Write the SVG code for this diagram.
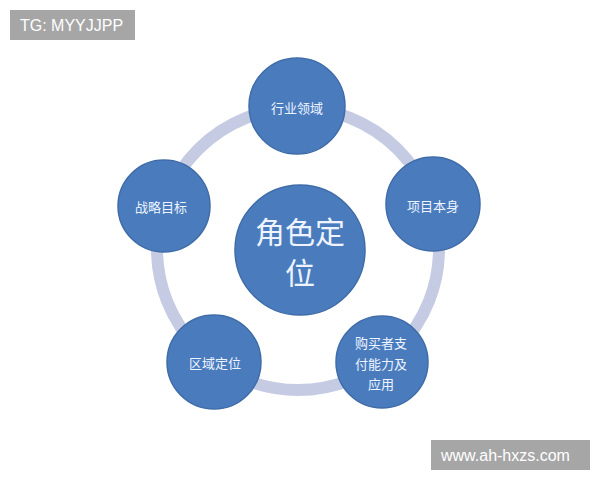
<svg xmlns="http://www.w3.org/2000/svg" width="600" height="480" viewBox="0 0 600 480">
<style>
.node{fill:#4a7cbd;stroke:#3f6ca8;stroke-width:1.5}
.t{fill:#eef4ff;font-family:"Noto Sans CJK SC","Noto Sans",sans-serif;font-size:13px;text-anchor:middle;dominant-baseline:central}
.big{font-size:30px}
.wm{fill:#a6a6a6}
.wt{fill:#ffffff;font-family:"Liberation Sans",Arial,sans-serif;font-size:16px;dominant-baseline:central}
</style>
<rect width="600" height="480" fill="#ffffff"/>
<g id="connectors">
<circle cx="298" cy="249" r="141" fill="none" stroke="#c5cbe3" stroke-width="12"/>
</g>
<g id="center">
<circle class="node" cx="300" cy="250" r="65"/>
<text class="t big" x="300" y="230">角色定</text>
<text class="t big" x="300" y="271">位</text>
</g>
<g id="n1">
<circle class="node" cx="297" cy="106" r="48"/>
<text class="t" x="297" y="107">行业领域</text>
</g>
<g id="n2">
<circle class="node" cx="433" cy="204" r="47"/>
<text class="t" x="433" y="205">项目本身</text>
</g>
<g id="n3">
<circle class="node" cx="382" cy="362" r="46"/>
<text class="t" x="381" y="342">购买者支</text>
<text class="t" x="381" y="363">付能力及</text>
<text class="t" x="381" y="383">应用</text>
</g>
<g id="n4">
<circle class="node" cx="214" cy="362" r="47"/>
<text class="t" x="215" y="362">区域定位</text>
</g>
<g id="n5">
<circle class="node" cx="164" cy="206" r="46"/>
<text class="t" x="161" y="206">战略目标</text>
</g>
<g id="watermarks">
<rect class="wm" x="10" y="10" width="125" height="30"/>
<text class="wt" x="20" y="25">TG: MYYJJPP</text>
<rect class="wm" x="431" y="440" width="159" height="30"/>
<text class="wt" x="441" y="455">www.ah-hxzs.com</text>
</g>
</svg>
